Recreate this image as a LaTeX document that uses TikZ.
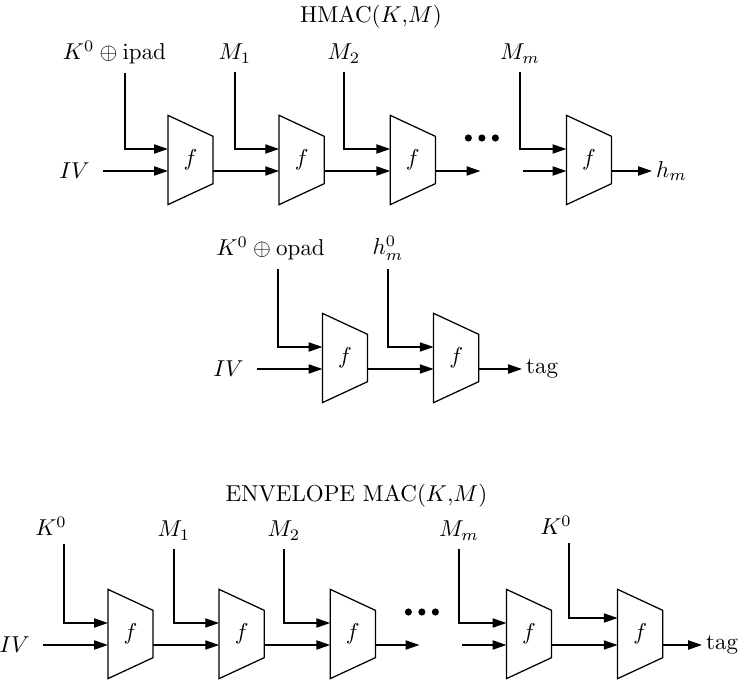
\documentclass[tikz,border=0pt]{standalone}
\usepackage{amsmath,amssymb}
\usepackage{tikz}
\usetikzlibrary{arrows.meta,positioning,calc}

\begin{document}
\begin{tikzpicture}[x=0.435pt,y=-0.435pt,line width=0.55pt,
  >={Triangle[length=6pt,width=4pt]},
  fbox/.style={minimum width=19.1pt,minimum height=38.3pt,inner sep=0pt},
  inlbl/.style={anchor=base},
  ivlbl/.style={anchor=east,inner xsep=5.5pt},
  outlbl/.style={anchor=west,inner xsep=1.5pt}]
  \useasboundingbox (0,0) rectangle (738,683);

  % HMAC, inner chain
  \node[anchor=base] (hmac) at (371,23) {HMAC$(K{,}M)$};
  \node[fbox] (a1) at (190.5,160) {$f$};
  \node[fbox,right=28.7pt of a1] (a2) {$f$};
  \node[fbox,right=28.7pt of a2] (a3) {$f$};
  \node[fbox,right=57pt of a3] (am) {$f$};
  \node[inlbl] (ki) at (114.5,60) {$K^0\oplus\mathrm{ipad}$};
  \node[inlbl] (m1) at (235,60) {$M_1$};
  \node[inlbl] (m2) at (344,60) {$M_2$};
  \node[inlbl] (mm) at (520,60) {$M_m$};
  \node[ivlbl] (iva) at (103,171) {$IV$};
  \node[outlbl] (hm) at (652,171) {$h_m$};
  \coordinate (a3out) at ($(a3.east)+(45,11)$);
  \coordinate (amin) at ($(am.west)+(-43,11)$);
  \coordinate (dotsa) at ($(a3out)+(1.5,-33)$);
  \draw[->] ($(ki.south)+(10.5,0)$) |- ($(a1.west)+(0,-11)$);
  \draw[->] (m1) |- ($(a2.west)+(0,-11)$);
  \draw[->] (m2) |- ($(a3.west)+(0,-11)$);
  \draw[->] (mm) |- ($(am.west)+(0,-11)$);
  \draw[->] (iva) -- ($(a1.west)+(0,11)$);
  \draw[->] ($(a1.east)+(0,11)$) -- ($(a2.west)+(0,11)$);
  \draw[->] ($(a2.east)+(0,11)$) -- ($(a3.west)+(0,11)$);
  \draw[->] ($(a3.east)+(0,11)$) -- (a3out);
  \draw[->] (amin) -- ($(am.west)+(0,11)$);
  \draw[->] ($(am.east)+(0,11)$) -- (hm);

  % HMAC, outer chain
  \node[fbox] (b1) at (345,358) {$f$};
  \node[fbox,right=28.7pt of b1] (b2) {$f$};
  \node[inlbl] (ko) at (270.5,256) {$K^0\oplus\mathrm{opad}$};
  \node[inlbl] (hm0) at (388,255) {$h_m^0$};
  \node[ivlbl] (ivb) at (257,369) {$IV$};
  \node[outlbl] (tagb) at (522,369) {tag};
  \draw[->] ($(ko.south)+(7.5,0)$) |- ($(b1.west)+(0,-11)$);
  \draw[->] (hm0) |- ($(b2.west)+(0,-11)$);
  \draw[->] (ivb) -- ($(b1.west)+(0,11)$);
  \draw[->] ($(b1.east)+(0,11)$) -- ($(b2.west)+(0,11)$);
  \draw[->] ($(b2.east)+(0,11)$) -- (tagb);

  % envelope MAC
  \node[anchor=base] (env) at (356.5,502) {ENVELOPE MAC$(K{,}M)$};
  \node[fbox] (c1) at (130.5,634) {$f$};
  \node[fbox,right=28.7pt of c1] (c2) {$f$};
  \node[fbox,right=28.7pt of c2] (c3) {$f$};
  \node[fbox,right=57pt of c3] (cm) {$f$};
  \node[fbox,right=28.7pt of cm] (ck) {$f$};
  \node[inlbl] (k1) at (51,536) {$K^0$};
  \node[inlbl] (m1c) at (174,537) {$M_1$};
  \node[inlbl] (m2c) at (284,537) {$M_2$};
  \node[inlbl] (mmc) at (459,537) {$M_m$};
  \node[inlbl] (k2) at (556,535) {$K^0$};
  \node[ivlbl] (ivc) at (43,645) {$IV$};
  \node[outlbl] (tagc) at (702,645) {tag};
  \coordinate (c3out) at ($(c3.east)+(44,11)$);
  \coordinate (cmin) at ($(cm.west)+(-44,11)$);
  \coordinate (dotsc) at ($(c3out)+(2.5,-33)$);
  \draw[->] ($(k1.south)+(13,0)$) |- ($(c1.west)+(0,-11)$);
  \draw[->] (m1c) |- ($(c2.west)+(0,-11)$);
  \draw[->] (m2c) |- ($(c3.west)+(0,-11)$);
  \draw[->] (mmc) |- ($(cm.west)+(0,-11)$);
  \draw[->] ($(k2.south)+(13,0)$) |- ($(ck.west)+(0,-16)$);
  \draw[->] (ivc) -- ($(c1.west)+(0,11)$);
  \draw[->] ($(c1.east)+(0,11)$) -- ($(c2.west)+(0,11)$);
  \draw[->] ($(c2.east)+(0,11)$) -- ($(c3.west)+(0,11)$);
  \draw[->] ($(c3.east)+(0,11)$) -- (c3out);
  \draw[->] (cmin) -- ($(cm.west)+(0,11)$);
  \draw[->] ($(cm.east)+(0,11)$) -- ($(ck.west)+(0,11)$);
  \draw[->] ($(ck.east)+(0,11)$) -- (tagc);

  % boxes and dots
  \foreach \n in {a1,a2,a3,am,b1,b2,c1,c2,c3,cm,ck}
    \draw (\n.north west) -- ($(\n.north east)+(0,21)$)
      -- ($(\n.south east)+(0,-21)$) -- (\n.south west) -- cycle;
  \foreach \c in {dotsa,dotsc}
    \foreach \i in {-1,0,1}
      \fill ($(\c)+(13.5*\i,0)$) circle (1.55pt);
\end{tikzpicture}
\end{document}
